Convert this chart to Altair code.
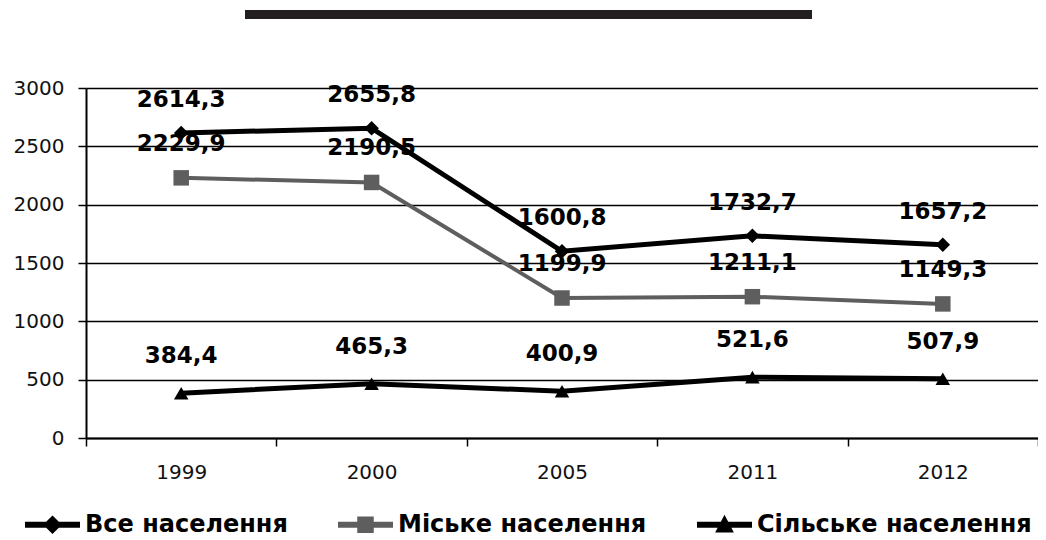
import altair as alt
import pandas as pd

years = ["1999", "2000", "2005", "2011", "2012"]
series_names = ["Все населення", "Міське населення", "Сільське населення"]
total = [2614.3, 2655.8, 1600.8, 1732.7, 1657.2]
urban = [2229.9, 2190.5, 1199.9, 1211.1, 1149.3]
rural = [384.4, 465.3, 400.9, 521.6, 507.9]
y_ticks = [0, 500, 1000, 1500, 2000, 2500, 3000]

values_by_series = [total, urban, rural]
rows = []
for name, vals in zip(series_names, values_by_series):
    for yr, v in zip(years, vals):
        rows.append({"series": name, "year": yr, "value": v,
                     "label": f"{v:.1f}".replace(".", ",")})
df = pd.DataFrame(rows)

colors = ["#000000", "#5e5e5e", "#000000"]
shapes = ["diamond", "square", "triangle-up"]
point_sizes = [210, 240, 210]
line_widths = [5, 4, 5]
label_dy = [-33, -34, -37]
legend_paths = [
    "M-1,-0.11H1V0.11H-1Z M0,-0.34L0.34,0L0,0.34L-0.34,0Z",
    "M-1,-0.11H1V0.11H-1Z M-0.3,-0.3H0.3V0.3H-0.3Z",
    "M-1,-0.11H1V0.11H-1Z M0,-0.36L0.34,0.28H-0.34Z",
]

FONT_BOLD = "DejaVu Sans"

x_enc = alt.X("year:N", sort=years,
              scale=alt.Scale(type="band", domain=years, paddingInner=0, paddingOuter=0),
              axis=alt.Axis(title=None, labelFont="DejaVu Sans", labelFontSize=20,
                            labelColor="#111111", labelPadding=16, tickBand="extent",
                            tickSize=8, tickColor="#000000", tickWidth=1.5,
                            domainColor="#000000", domainWidth=2, grid=False,
                            labelAngle=0))
y_enc = alt.Y("value:Q",
              scale=alt.Scale(domain=[0, 3000], nice=False, zero=True),
              axis=alt.Axis(title=None, values=y_ticks, format="d", labelFont="DejaVu Sans",
                            labelFontSize=20, labelColor="#111111", labelPadding=14,
                            tickSize=8, tickColor="#000000", tickWidth=1.5,
                            domainColor="#000000", domainWidth=2, grid=True,
                            gridColor="#000000", gridWidth=1.5, gridOpacity=1))

base = alt.Chart(df)
layers = []
for i, name in enumerate(series_names):
    sub = base.transform_filter(alt.datum.series == name)
    layers.append(sub.mark_line(color=colors[i], strokeWidth=line_widths[i]).encode(x=x_enc, y=y_enc))
for i, name in enumerate(series_names):
    sub = base.transform_filter(alt.datum.series == name)
    layers.append(sub.mark_point(shape=shapes[i], filled=True, opacity=1, color=colors[i],
                                 size=point_sizes[i]).encode(x=x_enc, y=y_enc))
for i, name in enumerate(series_names):
    sub = base.transform_filter(alt.datum.series == name)
    layers.append(sub.mark_text(font=FONT_BOLD, fontWeight="bold", fontSize=23,
                                color="#000000", dy=label_dy[i]).encode(
        x=x_enc, y=y_enc, text="label:N"))

legend_def = alt.Legend(title=None, orient="none", direction="horizontal",
                        legendX=-61, legendY=409, labelFont=FONT_BOLD,
                        labelFontWeight="bold", labelFontSize=24, labelColor="#000000",
                        symbolSize=3025, symbolStrokeWidth=0, symbolOpacity=1,
                        columnPadding=50, labelOffset=5, labelLimit=400)
legend_layer = base.transform_filter(alt.datum.value < 0).mark_point(filled=True, opacity=1).encode(
    x=x_enc, y=y_enc,
    shape=alt.Shape("series:N", scale=alt.Scale(domain=series_names, range=legend_paths),
                    legend=legend_def),
    fill=alt.Fill("series:N", scale=alt.Scale(domain=series_names, range=colors),
                  legend=legend_def),
)
layers.append(legend_layer)

title_bar = alt.Chart(df).mark_rule(color="#231f20", strokeWidth=9, strokeCap="butt").encode(
    x=alt.value(159), x2=alt.value(726), y=alt.value(-73.5))
layers.append(title_bar)

chart = alt.layer(*layers).properties(
    width=952, height=350,
    autosize=alt.AutoSizeParams(type="none"),
    padding={"left": 78, "top": 80, "right": 0, "bottom": 102},
).configure_view(stroke=None).configure(background="#ffffff")

chart.save("out.html", embed_options={"renderer": "svg", "actions": False})
